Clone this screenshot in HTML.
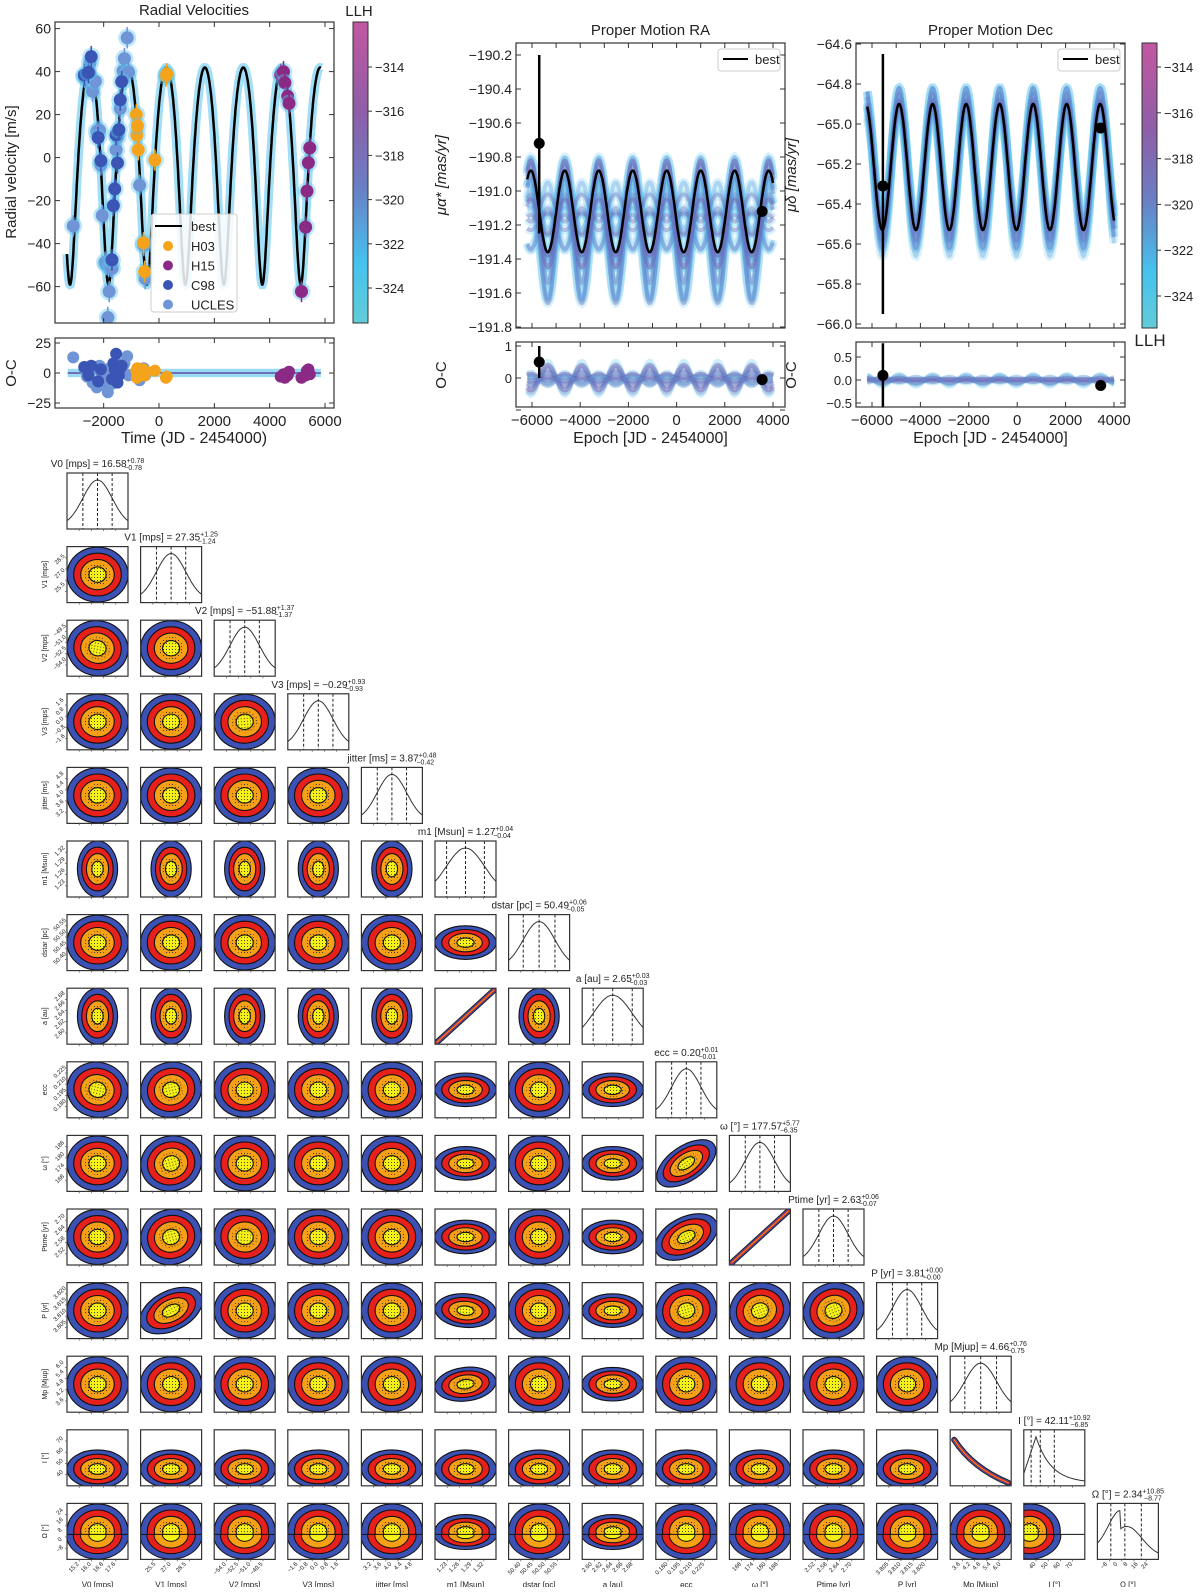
<!DOCTYPE html>
<html><head><meta charset="utf-8"><style>
body{margin:0;background:#fff}
svg text{font-family:"Liberation Sans",sans-serif;fill:#222}
</style></head><body>
<svg id="fig" xmlns="http://www.w3.org/2000/svg" width="1200" height="1587" viewBox="0 0 1200 1587">
<defs>
<linearGradient id="cbar" x1="0" y1="0" x2="0" y2="1">
<stop offset="0" stop-color="#c257a0"/><stop offset="0.3" stop-color="#8e5ea8"/><stop offset="0.55" stop-color="#6a7ec4"/><stop offset="0.8" stop-color="#45c2ee"/><stop offset="1" stop-color="#62ccd8"/>
</linearGradient>
<pattern id="dots" width="3" height="3" patternUnits="userSpaceOnUse"><rect x="1" y="1" width="0.9" height="0.9" fill="#222"/></pattern>
</defs>
</svg>
<script>
// ---------- DATA ----------
const rvUclesT=[-3100,-2700,-2600,-2500,-2400,-2300,-2250,-2150,-2100,-2050,-1950,-1900,-1850,-1800,-1750,-1700,-1550,-1500,-1400,-1300,-1250,-1150,-1100,-700,-550,-500];
const rvUclesRes=[13,4,-3,2,-8,5,-12,6,1,-10,-6,3,-16,-4,2,-9,9,4,0,6,8,14,-2,-6,4,-2];
const rvC98T=[-2700,-2550,-2450,-2200,-2100,-1700,-1650,-1600,-1550,-1500,-1450,-1400,-1350];
const rvC98Res=[5,-2,6,-7,3,-5,8,3,16,-8,-2,4,6];
const rvH03T=[-820,-800,-780,-750,-560,-520,-150,250,280];
const rvH03Res=[2,-4,4,-1,3,-2,2,-4,-3];
const rvH15T=[4400,4500,4550,4650,4700,5150,5300,5350,5400,5450];
const rvH15Res=[-3,-1,-4,-2,1,-4,-2,2,3,-1];
const raObsT=[-5700,3550], raObs=[-190.72,-191.12], raErrHi=[-190.2,null], raErrLo=[-191.25,null], raOC=[0.5,-0.05];
const decObsT=[-5550,3450], decObs=[-65.31,-65.02], decErrHi=[-64.65,null], decErrLo=[-65.95,null], decOC=[0.1,-0.12];
const raSampleAmp=[0.42,0.36,0.3,0.24,0.18,0.1,0.02,-0.05,-0.12,-0.2,0.38,0.28,0.14,0.06,-0.08,0.33,0.2];
const raSampleOff=[-191.22,-191.18,-191.15,-191.16,-191.2,-191.15,-191.12,-191.18,-191.22,-191.15,-191.28,-191.1,-191.08,-191.2,-191.1,-191.3,-191.25];
const decSampleAmp=[0.42,0.38,0.35,0.32,0.3,0.28,0.26,0.36,0.33,0.4,0.31];
const decSampleOff=[-65.24,-65.2,-65.23,-65.21,-65.24,-65.19,-65.22,-65.26,-65.18,-65.22,-65.2];
const params=["V0 [mps]","V1 [mps]","V2 [mps]","V3 [mps]","jitter [ms]","m1 [Msun]","dstar [pc]","a [au]","ecc","ω [°]","Ptime [yr]","P [yr]","Mp [Mjup]","I [°]","Ω [°]"];
const medians=["16.58","27.35","−51.88","−0.29","3.87","1.27","50.49","2.65","0.20","177.57","2.63","3.81","4.66","42.11","2.34"];
const errUp=["0.78","1.25","1.37","0.93","0.48","0.04","0.06","0.03","0.01","5.77","0.06","0.00","0.76","10.92","10.85"];
const errDn=["0.78","1.24","1.37","0.93","0.42","0.04","0.05","0.03","0.01","6.35","0.07","0.00","0.75","6.85","8.77"];
const diagSigma=[0.24,0.24,0.24,0.24,0.24,0.31,0.26,0.32,0.24,0.24,0.24,0.24,0.26,0.2,0.26];
const tickLabels=[["15.2","16.0","16.8","17.6"],["25.5","27.0","28.5"],["−54.0","−52.5","−51.0","−49.5"],["−1.6","−0.8","0.0","0.8","1.6"],["3.2","3.6","4.0","4.4","4.8"],["1.23","1.26","1.29","1.32"],["50.40","50.45","50.50","50.55"],["2.60","2.62","2.64","2.66","2.68"],["0.180","0.195","0.210","0.225"],["168","174","180","186"],["2.52","2.58","2.64","2.70"],["3.805","3.810","3.815","3.820"],["3.6","4.2","4.8","5.4","6.0"],["40","50","60","70"],["−8","0","8","16","24"]];
const corrRow=[2,3,8,8,9,9,10,10,10,10,11,11,11,11,11,12,6];
const corrCol=[0,2,0,1,1,8,1,8,9,2,1,8,9,10,5,5,5];
const corrVal=[-0.25,0.1,-0.3,0.3,0.35,0.75,0.35,0.6,0.99,-0.1,0.6,0.35,0.45,0.5,-0.1,0.15,0.0];

// ---------- HELPERS ----------
const NS="http://www.w3.org/2000/svg";
const svg=document.getElementById('fig');
function mk(tag,attrs,parent){const e=document.createElementNS(NS,tag);for(const k in attrs)e.setAttribute(k,attrs[k]);(parent||svg).appendChild(e);return e;}
function txt(x,y,s,size,anchor,parent,extra){const e=mk('text',Object.assign({x:x,y:y,'font-size':size,'text-anchor':anchor||'middle'},extra||{}),parent);e.textContent=s;return e;}
function lin(a,b,c,d){return v=>c+(v-a)*(d-c)/(b-a);}
function frame(x,y,w,h,name){const r=mk('rect',{x:x,y:y,width:w,height:h,fill:'none',stroke:'#333','stroke-width':1.2});return r;}
function xticks(X,vals,y0,y1,labels,size){vals.forEach((v,i)=>{const x=X(v);const t=mk('line',{x1:x,x2:x,y1:y1,y2:y1-5,stroke:'#333'});const t2=mk('line',{x1:x,x2:x,y1:y0,y2:y0+5,stroke:'#333'});if(labels){const l=txt(x,y1+18,labels[i],size||14);}});}
function yticks(Y,vals,x0,x1,labels,size){vals.forEach((v,i)=>{const y=Y(v);const t=mk('line',{x1:x0,x2:x0+5,y1:y,y2:y,stroke:'#333'});const t2=mk('line',{x1:x1,x2:x1-5,y1:y,y2:y,stroke:'#333'});if(labels){const l=txt(x0-4,y+5,labels[i],size||14,'end');}});}
function pathFrom(f,t0,t1,X,Y,n){let d='';for(let i=0;i<=n;i++){const t=t0+(t1-t0)*i/n;d+=(i?'L':'M')+X(t).toFixed(1)+','+Y(f(t)).toFixed(1);}return d;}
function rng(a,b,s){const r=[];for(let v=a;v<=b+1e-9;v+=s)r.push(+v.toFixed(4));return r;}

// ---------- RV model ----------
const P=1390,ecc=0.2,om=177.57*Math.PI/180,K=50.5,tPeak=253;
function rvModel(t){let M=2*Math.PI*(t-(tPeak-P/2))/P;let E=M;for(let i=0;i<12;i++)E=E-(E-ecc*Math.sin(E)-M)/(1-ecc*Math.cos(E));const nu=2*Math.atan2(Math.sqrt(1+ecc)*Math.sin(E/2),Math.sqrt(1-ecc)*Math.cos(E/2));return K*(Math.cos(nu+om)+ecc*Math.cos(om))+1.5;}

// ---------- RV PANEL ----------
(function(){
const g=mk('g',{});
const X=lin(0,6000,159,325), Y=lin(0,40,157.6,71.6);
const cl=mk('clipPath',{id:'rvclip'});mk('rect',{x:55,y:22,width:279,height:301},cl);
const pg=mk('g',{'clip-path':'url(#rvclip)'},g);
const band=mk('path',{d:pathFrom(rvModel,-3330,5850,X,Y,900),fill:'none',stroke:'#55c3ef','stroke-width':9,'stroke-opacity':0.55},pg);
const best=mk('path',{d:pathFrom(rvModel,-3330,5850,X,Y,900),fill:'none',stroke:'#000','stroke-width':2.5},pg);
function pts(T,R,col,name){T.forEach((t,i)=>{const v=rvModel(t)+R[i];const h=mk('circle',{cx:X(t),cy:Y(v),r:9,fill:'#55c3ef','fill-opacity':0.4},pg);const e=mk('line',{x1:X(t),x2:X(t),y1:Y(v+5),y2:Y(v-5),stroke:col,'stroke-width':1.5},pg);const c=mk('circle',{cx:X(t),cy:Y(v),r:6.5,fill:col},pg);});}
pts(rvUclesT,rvUclesRes,'#6f95d6','ucles');pts(rvC98T,rvC98Res,'#3a55b4','c98');pts(rvH03T,rvH03Res,'#f6a31c','h03');pts(rvH15T,rvH15Res,'#8a2a84','h15');
frame(55,22,279,301,'rv-axes-frame');
xticks(X,rng(-2000,6000,2000),22,323,null);yticks(Y,rng(-60,60,20),55,334,["−60","−40","−20","0","20","40","60"]);
txt(194,15,'Radial Velocities',15);
const yl=txt(0,0,'Radial velocity [m/s]',15,'middle',null,{transform:'translate(16,172) rotate(-90)'});
const lg=mk('rect',{x:151,y:214,width:86,height:98,fill:'#fff','fill-opacity':0.85,stroke:'#ccc',rx:3});
mk('line',{x1:155,x2:182,y1:226,y2:226,stroke:'#000','stroke-width':2});txt(191,231,'best',13,'start');
[['H03','#f6a31c'],['H15','#8a2a84'],['C98','#3a55b4'],['UCLES','#6f95d6']].forEach((e,i)=>{const y=246+i*19.5;const c=mk('circle',{cx:168,cy:y,r:5,fill:e[1]});const l=txt(191,y+5,e[0],13,'start');});
const cb=mk('rect',{x:353,y:22,width:15,height:301,fill:'url(#cbar)',stroke:'#333'});
const CY=lin(-314,-324,67,288);
[-314,-316,-318,-320,-322,-324].forEach(v=>{mk('line',{x1:368,x2:372,y1:CY(v),y2:CY(v),stroke:'#333'});const l=txt(375,CY(v)+5,'−'+(-v),13,'start');});
txt(359,16,'LLH',15);
const YO=lin(0,25,373,343);
const cl2=mk('clipPath',{id:'rvocclip'});mk('rect',{x:55,y:338,width:279,height:70},cl2);
const oc=mk('g',{'clip-path':'url(#rvocclip)'});
mk('rect',{x:X(-3300),y:YO(3.5),width:X(5850)-X(-3300),height:YO(-3.5)-YO(3.5),fill:'#55c3ef','fill-opacity':0.6},oc);
mk('line',{x1:X(-3300),x2:X(5850),y1:YO(0),y2:YO(0),stroke:'#7070b8','stroke-width':2},oc);
function ocp(T,R,col,name){T.forEach((t,i)=>{const c=mk('circle',{cx:X(t),cy:YO(R[i]),r:6,fill:col},oc);});}
ocp(rvUclesT,rvUclesRes,'#6f95d6','ucles');ocp(rvC98T,rvC98Res,'#3a55b4','c98');ocp(rvH03T,rvH03Res,'#f6a31c','h03');ocp(rvH15T,rvH15Res,'#8a2a84','h15');
frame(55,338,279,70,'rv-oc-frame');
xticks(X,rng(-2000,6000,2000),338,408,["−2000","0","2000","4000","6000"],15);
yticks(YO,[-25,0,25],55,334,["−25","0","25"]);
txt(0,0,'O-C',15,'middle',null,{transform:'translate(16,373) rotate(-90)'});
txt(194,443,'Time (JD - 2454000)',16);
})();

// ---------- PM PANELS ----------
function pmPanel(o){
const X=lin(-6000,4000,o.x6,o.x4), Y=lin(o.yv0,o.yv1,o.yp0,o.yp1);
const id=o.key+'clip';const cl=mk('clipPath',{id:id});mk('rect',{x:o.L,y:43,width:o.R-o.L,height:285},cl);
const g=mk('g',{'clip-path':'url('+id+')'});
const w=t=>Math.cos(2*Math.PI*(t-o.t0)/o.P);
o.amp.forEach((a,i)=>{const f=t=>o.off[i]+a*w(t);const p=mk('path',{d:pathFrom(f,-6200,4000,X,Y,500),fill:'none',stroke:'#5cc6ee','stroke-width':9,'stroke-opacity':0.22},g);});
o.amp.forEach((a,i)=>{const f=t=>o.off[i]+a*w(t);const p=mk('path',{d:pathFrom(f,-6200,4000,X,Y,500),fill:'none',stroke:i%3===0?'#5a9ee0':'#6e60b4','stroke-width':4,'stroke-opacity':0.35},g);});
const best=mk('path',{d:pathFrom(t=>o.bMid+o.bAmp*w(t),-6200,4000,X,Y,600),fill:'none',stroke:'#000','stroke-width':2.5},g);
o.obsT.forEach((t,i)=>{if(o.hi[i]!==null){const e=mk('line',{x1:X(t),x2:X(t),y1:Y(o.hi[i]),y2:Y(o.lo[i]),stroke:'#000','stroke-width':2.5});}const c=mk('circle',{cx:X(t),cy:Y(o.obs[i]),r:5.5,fill:'#000'});});
frame(o.L,43,o.R-o.L,285,o.key+'-axes-frame');
xticks(X,rng(-6000,4000,1000),43,328,null);
yticks(Y,o.yt,o.L,o.R,o.ytl);
txt((o.L+o.R)/2,35,o.title,15);
const lg=mk('rect',{x:o.R-67,y:49,width:62,height:22,fill:'#fff',stroke:'#ccc',rx:3});
mk('line',{x1:o.R-62,x2:o.R-37,y1:59,y2:59,stroke:'#000','stroke-width':2});txt(o.R-30,64,'best',13,'start');
const yl=txt(0,0,o.ylab,15,'middle',null,{transform:'translate('+o.ylx+',175) rotate(-90)','font-style':'italic'});
const YO=lin(0,1,o.oc0,o.oc1);
const id2=o.key+'occlip';const cl2=mk('clipPath',{id:id2});mk('rect',{x:o.L,y:342,width:o.R-o.L,height:65},cl2);
const g2=mk('g',{'clip-path':'url('+id2+')'});
o.amp.forEach((a,i)=>{const f=t=>(a-o.bAmp)*w(t)*o.ocScale+(o.off[i]-o.bMid)*0.3;const p=mk('path',{d:pathFrom(f,-6200,4000,X,YO,500),fill:'none',stroke:i%3===0?'#5cc6ee':'#6e60b4','stroke-width':5,'stroke-opacity':0.3},g2);});
o.obsT.forEach((t,i)=>{if(o.hi[i]!==null){mk('line',{x1:X(t),x2:X(t),y1:YO(o.oc[i]+o.ocErr),y2:YO(o.oc[i]-o.ocErr),stroke:'#000','stroke-width':2.5},g2);}const c=mk('circle',{cx:X(t),cy:YO(o.oc[i]),r:5.5,fill:'#000'},g2);});
frame(o.L,342,o.R-o.L,65,o.key+'-oc-frame');
xticks(X,rng(-6000,4000,2000),342,407,["−6000","−4000","−2000","0","2000","4000"],15);
yticks(YO,o.oct,o.L,o.R,o.octl,13);
txt(0,0,'O-C',15,'middle',null,{transform:'translate('+(o.ylx)+',375) rotate(-90)'});
txt((o.L+o.R)/2,443,'Epoch [JD - 2454000]',16);
}
pmPanel({key:'pm-ra',title:'Proper Motion RA',L:516,R:785,x6:532,x4:773,yv0:-190.2,yv1:-191.8,yp0:55,yp1:327,t0:-6050,P:1410,bMid:-191.12,bAmp:0.24,amp:raSampleAmp,off:raSampleOff,obsT:raObsT,obs:raObs,hi:raErrHi,lo:raErrLo,oc:raOC,ocErr:0.5,oc0:378,oc1:346,ocScale:1.2,yt:rng(-191.8,-190.2,0.2),ytl:["−191.8","−191.6","−191.4","−191.2","−191.0","−190.8","−190.6","−190.4","−190.2"],oct:[-1,0,1],octl:["","0","1"],ylab:'μα* [mas/yr]',ylx:446});
pmPanel({key:'pm-dec',title:'Proper Motion Dec',L:856,R:1125,x6:872,x4:1114,yv0:-64.6,yv1:-66.0,yp0:44,yp1:324,t0:-4880,P:1385,bMid:-65.215,bAmp:0.315,amp:decSampleAmp,off:decSampleOff,obsT:decObsT,obs:decObs,hi:decErrHi,lo:decErrLo,oc:decOC,ocErr:0.7,oc0:380,oc1:334,ocScale:1.2,yt:rng(-66,-64.6,0.2),ytl:["−66.0","−65.8","−65.6","−65.4","−65.2","−65.0","−64.8","−64.6"],oct:[-0.5,0,0.5],octl:["−0.5","0.0","0.5"],ylab:'μδ [mas/yr]',ylx:796});
(function(){const cb=mk('rect',{x:1142,y:43,width:15,height:285,fill:'url(#cbar)',stroke:'#333'});
const CY=lin(-314,-324,67,296);[-314,-316,-318,-320,-322,-324].forEach(v=>{mk('line',{x1:1157,x2:1161,y1:CY(v),y2:CY(v),stroke:'#333'});const l=txt(1164,CY(v)+5,'−'+(-v),13,'start');});
txt(1150,346,'LLH',17);})();

// ---------- CORNER PLOT ----------
(function(){
const N=params.length,ox=67,oy=473,pitch=73.6,cw=61,ch=56;
const cols=['#3b52b4','#e8201c','#f6a015','#f5f015'];const fr=[1,0.78,0.55,0.28];
function rho(r,c){for(let i=0;i<corrRow.length;i++)if(corrRow[i]===r&&corrCol[i]===c)return corrVal[i];return 0;}
for(let r=0;r<N;r++){for(let c=0;c<=r;c++){
 const x=ox+c*pitch,y=oy+r*pitch;const cx=x+cw/2,cy=y+ch/2;
 const g=mk('g',{});
 const cid='cc'+r+'_'+c;const cp=mk('clipPath',{id:cid});mk('rect',{x:x,y:y,width:cw,height:ch},cp);
 const gg=mk('g',{'clip-path':'url(#'+cid+')'},g);
 if(r===c){
  const s=diagSigma[r]*cw;let d='';
  for(let i=0;i<=60;i++){const px=x+cw*i/60;let f;
   if(r===13){const u=(px-x)/cw;f=u<0.2?0.2+0.8*u/0.2:Math.exp(-(u-0.2)/0.25);f=Math.min(f,1);}
   else if(r===14){const u=(px-x)/cw;f=u<0.38?0.15+0.85*Math.exp(-Math.pow((u-0.38)/0.2,2)/2):0.65*Math.exp(-Math.pow((u-0.48)/0.25,2)/2);}
   else f=Math.exp(-Math.pow((px-cx)/s,2)/2);
   d+=(i?'L':'M')+px.toFixed(1)+','+(y+ch-3-f*(ch-10)).toFixed(1);}
  const p=mk('path',{d:d,fill:'none',stroke:'#333','stroke-width':1},gg);
  const dl=r===13?[0.12,0.27,0.5]:r===14?[0.22,0.45,0.72]:[0.5-diagSigma[r],0.5,0.5+diagSigma[r]];
  dl.forEach(u=>{const l=mk('line',{x1:x+u*cw,x2:x+u*cw,y1:y,y2:y+ch,stroke:'#222','stroke-dasharray':'3,2'},gg);});
  const t=mk('text',{x:cx,y:y-6,'font-size':10,'text-anchor':'middle'});
  t.textContent=params[r]+' = '+medians[r];
  const sp=mk('tspan',{'font-size':7,dy:-4},t);sp.textContent='+'+errUp[r];
  const sb=mk('tspan',{'font-size':7,dx:-20,dy:7},t);sb.textContent='−'+errDn[r];
 } else {
  const rh=rho(r,c);let rx=0.5,ry=0.49;
  if(r===5||r===7){rx=0.33;ry=0.5;}
  if((c===5||c===7)&&r>c){rx=0.5;ry=0.3;}
  if(r===6&&c===5){rx=0.5;ry=0.3;}
  const line=(r===7&&c===5)||(r===10&&c===9)||(r===13&&c===12);
  if(line){
   const d=r===13?'M'+(x+4)+','+(y+10)+' Q'+(x+22)+','+(y+38)+' '+(x+cw-3)+','+(y+ch-3):'M'+(x+2)+','+(y+ch-2)+' L'+(x+cw-2)+','+(y+2);
   [['#222',6],['#3b52b4',4],['#e8201c',2.2],['#f6a015',0.8]].forEach(s=>{mk('path',{d:d,fill:'none',stroke:s[0],'stroke-width':s[1],'stroke-linecap':'round'},gg);});
  } else {
   let ecx=cx,ecy=cy,ang=-rh*45;let sx=rx*cw,sy=ry*ch;
   if(Math.abs(rh)>0.5){sx=rx*cw*1.1;sy=ry*ch*(1.05-Math.abs(rh)*0.55);}
   if(r===13){ecy=y+ch*0.7;sy=ch*0.34;}
   if(c===13){ecx=x+6;}
   fr.forEach((f,k)=>{const e=mk('ellipse',{cx:ecx,cy:ecy,rx:sx*f,ry:sy*f,fill:cols[k],stroke:'#111','stroke-width':1.1,transform:'rotate('+ang+' '+ecx+' '+ecy+')'},gg);});
   mk('ellipse',{cx:ecx,cy:ecy,rx:sx*0.42,ry:sy*0.42,fill:'url(#dots)',transform:'rotate('+ang+' '+ecx+' '+ecy+')'},gg);
   if(r===14){const hy=cy+3;const hid='hc'+c;const hc=mk('clipPath',{id:hid});mk('rect',{x:x,y:hy,width:cw,height:ch},hc);
    const h=mk('g',{'clip-path':'url(#'+hid+')'},gg);mk('rect',{x:x,y:hy,width:cw,height:ch,fill:'#fff'},h);
    fr.forEach((f,k)=>{mk('ellipse',{cx:ecx,cy:hy,rx:sx*f*1.02,ry:sy*f*0.9,fill:cols[k],stroke:'#111','stroke-width':1},h);});
    mk('line',{x1:x,x2:x+cw,y1:hy,y2:hy,stroke:'#111','stroke-width':1},gg);}
  }
 }
 frame(x,y,cw,ch,'cell-frame');
 for(let k=1;k<=4;k++){mk('line',{x1:x+cw*k/5,x2:x+cw*k/5,y1:y+ch,y2:y+ch+2,stroke:'#555','stroke-width':0.7});if(c===0&&r>0)mk('line',{x1:x-2,x2:x,y1:y+ch*k/5,y2:y+ch*k/5,stroke:'#555','stroke-width':0.7});}
 if(r===N-1){const tl=tickLabels[c];tl.forEach((s,k)=>{const px=x+cw*(k+1)/(tl.length+1);const l=txt(0,0,s,6,'end',null,{transform:'translate('+px+','+(y+ch+5)+') rotate(-45)'});});
  const xl=txt(x+cw/2,y+ch+28,params[c],8);}
 if(c===0&&r>0){const tl=tickLabels[r];tl.forEach((s,k)=>{const py=y+ch-ch*(k+1)/(tl.length+1);const l=txt(0,0,s,6,'middle',null,{transform:'translate('+(x-6)+','+py+') rotate(-45)'});});
  const yl=txt(0,0,params[r],7,'middle',null,{transform:'translate('+(x-20)+','+(y+ch/2)+') rotate(-90)'});}
}}
})();
</script>
</body></html>
